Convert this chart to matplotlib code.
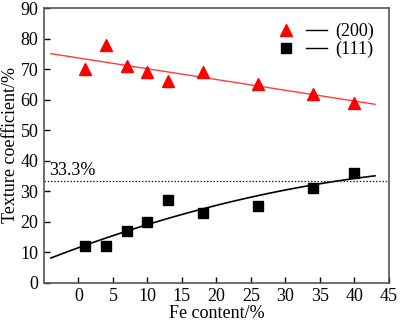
import numpy as np
import matplotlib
matplotlib.use("Agg")
from matplotlib import pyplot as plt
from matplotlib.lines import Line2D
from matplotlib.legend_handler import HandlerTuple

plt.rcParams['font.family'] = ['Liberation Serif', 'DejaVu Serif']
plt.rcParams['font.size'] = 13

# Fe content (%) and texture coefficients of the two planes
fe = [1, 4, 7, 10, 13, 18, 26, 34, 40]
tc_200 = [70, 78, 71, 69, 66, 69, 65, 62, 59]
tc_111 = [12, 12, 17, 20, 27, 23, 25, 31, 36]
random_level = 33.3

fig = plt.figure(figsize=(4.0, 3.25), dpi=100)
ax = fig.add_axes([0.11, 0.13, 0.862, 0.845])

# fitted trends
xf = np.linspace(-4, 43, 100)
p200 = np.polyfit(fe, tc_200, 1)
p111 = np.polyfit(fe, tc_111, 2)
ax.plot(xf, np.polyval(p200, xf), color='#ff3b3b', lw=1.0)
ax.plot(xf, np.polyval(p111, xf), color='black', lw=1.2)

ax.plot(fe, tc_200, '^', color='#ff0000', ms=8, mec='#ff0000')
ax.plot(fe, tc_111, 's', color='black', ms=6.5)

ax.axhline(random_level, color='#222222', lw=0.9, ls=(0, (1.2, 1.4)))
ax.text(-4.2, random_level + 0.8, '33.3%', fontsize=13, va='bottom', ha='left')

ax.set_xlim(-5, 45)
ax.set_ylim(0, 90)
ax.set_xticks(range(0, 46, 5))
ax.set_yticks(range(0, 91, 10))
ax.tick_params(direction='in', length=4, width=1, top=False, right=False, pad=4)
for s in ax.spines.values():
    s.set_color('#555555')
    s.set_linewidth(1.2)

ax.set_xlabel('Fe content/%', labelpad=0)
ax.set_ylabel('Texture coefficient/%', labelpad=1)

# legend: marker, then short black line, then label
h200 = (Line2D([], [], marker='^', color='#ff0000', ls='none', ms=8),
        Line2D([], [], color='black', lw=1.0))
h111 = (Line2D([], [], marker='s', color='black', ls='none', ms=6.5),
        Line2D([], [], color='black', lw=1.0))
ax.legend([h200, h111], ['(200)', '(111)'],
          handler_map={tuple: HandlerTuple(ndivide=None, pad=0.5)},
          loc='upper right', frameon=False, handlelength=2.8,
          handletextpad=0.5, labelspacing=0.05, borderaxespad=0.4)

fig.savefig('out.png', dpi=100)
